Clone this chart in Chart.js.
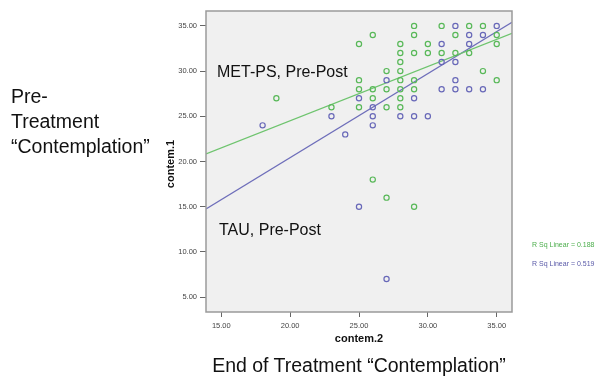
<!DOCTYPE html>
<html>
<head>
<meta charset="utf-8">
<script src="https://cdn.jsdelivr.net/npm/chart.js@4.4.1/dist/chart.umd.min.js"></script>
<style>
  html, body { margin: 0; padding: 0; background: #fff; }
  #wrap { position: relative; width: 607px; height: 376px; font-family: "Liberation Sans", Arial, sans-serif; }
  #grafico { position: absolute; left: 0; top: 0; }
  .txt { position: absolute; white-space: nowrap; color: #111; line-height: 1; }
</style>
</head>
<body>
<div id="wrap">
  <canvas id="grafico" width="607" height="376"></canvas>
  <div class="txt" style="left:11px; top:84px; font-size:19.5px; line-height:25px;">Pre-<br>Treatment<br>“Contemplation”</div>
  <div class="txt" style="left:170px; top:164px; font-size:11px; font-weight:bold; transform:translate(-50%,-50%) rotate(-90deg);">contem.1</div>
  <div class="txt" style="left:359px; top:338px; font-size:11px; font-weight:bold; transform:translate(-50%,-50%);">contem.2</div>
  <div class="txt" style="left:359px; top:366px; font-size:19.5px; transform:translate(-50%,-50%);">End of Treatment “Contemplation”</div>
  <div class="txt" style="left:217px; top:64px; font-size:16px;">MET-PS, Pre-Post</div>
  <div class="txt" style="left:219px; top:222px; font-size:16px;">TAU, Pre-Post</div>
  <div class="txt" style="left:532px; top:241px; font-size:7px; color:#4cae4c;">R Sq Linear = 0.188</div>
  <div class="txt" style="left:532px; top:260px; font-size:7px; color:#5a5aa8;">R Sq Linear = 0.519</div>
</div>
<script>
// Ticks dos eixos
const ticksX = [15, 20, 25, 30, 35];
const ticksY = [5, 10, 15, 20, 25, 30, 35];

// MET-PS (verde): contem.2 x contem.1
const metX = [29, 31, 33, 34, 26, 29, 32, 35, 25, 28, 30, 35, 28, 29, 30, 31, 32, 33, 28,
  27, 28, 34, 25, 28, 29, 35, 25, 26, 27, 28, 29, 19, 26, 28, 23, 25, 27, 28, 26, 27, 29];
const metY = [35, 35, 35, 35, 34, 34, 34, 34, 33, 33, 33, 33, 32, 32, 32, 32, 32, 32, 31,
  30, 30, 30, 29, 29, 29, 29, 28, 28, 28, 28, 28, 27, 27, 27, 26, 26, 26, 26, 18, 16, 15];

// TAU (azul)
const tauX = [32, 35, 33, 34, 31, 33, 31, 32, 27, 32, 31, 32, 33, 34, 25, 29,
  26, 23, 26, 28, 29, 30, 18, 26, 24, 25, 27];
const tauY = [35, 35, 34, 34, 33, 33, 31, 31, 29, 29, 28, 28, 28, 28, 27, 27,
  26, 25, 25, 25, 25, 25, 24, 24, 23, 15, 7];

// Retas de regressão (extremos)
const retaMetX = [13.89, 36.11];
const retaMetY = [20.83, 34.19];
const retaTauX = [13.89, 36.11];
const retaTauY = [14.74, 35.4];

const verde = 'rgb(88, 184, 88)';
const azul = 'rgb(104, 104, 184)';

function pontos(xs, ys) {
  return xs.map((x, i) => ({ x: x, y: ys[i] }));
}

// Fundo cinza e borda da área do gráfico
const fundoPlugin = {
  id: 'fundo',
  beforeDraw(chart) {
    const a = chart.chartArea;
    const ctx = chart.ctx;
    ctx.save();
    ctx.fillStyle = '#f0f0f0';
    ctx.fillRect(a.left, a.top, a.right - a.left, a.bottom - a.top);
    ctx.restore();
  },
  afterDraw(chart) {
    const a = chart.chartArea;
    const ctx = chart.ctx;
    ctx.save();
    ctx.strokeStyle = '#9a9a9a';
    ctx.lineWidth = 1.5;
    ctx.strokeRect(a.left, a.top, a.right - a.left, a.bottom - a.top);
    ctx.restore();
  }
};

const ctx = document.getElementById('grafico').getContext('2d');
new Chart(ctx, {
  type: 'scatter',
  data: {
    datasets: [
      {
        label: 'MET-PS',
        data: pontos(metX, metY),
        borderColor: verde,
        backgroundColor: 'rgba(0,0,0,0)',
        borderWidth: 1.2,
        pointRadius: 2.6
      },
      {
        label: 'TAU',
        data: pontos(tauX, tauY),
        borderColor: azul,
        backgroundColor: 'rgba(0,0,0,0)',
        borderWidth: 1.2,
        pointRadius: 2.6
      },
      {
        type: 'line',
        label: 'Reta MET-PS',
        data: pontos(retaMetX, retaMetY),
        borderColor: 'rgb(110, 196, 110)',
        borderWidth: 1.3,
        pointRadius: 0,
        fill: false
      },
      {
        type: 'line',
        label: 'Reta TAU',
        data: pontos(retaTauX, retaTauY),
        borderColor: 'rgb(110, 110, 186)',
        borderWidth: 1.3,
        pointRadius: 0,
        fill: false
      }
    ]
  },
  options: {
    responsive: false,
    animation: false,
    layout: { padding: { left: 0, top: 11, right: 95, bottom: 0 } },
    plugins: {
      legend: { display: false },
      tooltip: { enabled: false }
    },
    scales: {
      x: {
        type: 'linear',
        min: 13.89,
        max: 36.11,
        afterBuildTicks: (s) => { s.ticks = ticksX.map(v => ({ value: v })); },
        afterFit: (s) => { s.height = 64; },
        grid: { drawOnChartArea: false, drawTicks: true, tickLength: 5, color: '#666' },
        border: { display: false },
        ticks: {
          color: '#444',
          font: { family: 'Liberation Sans', size: 7.5 },
          padding: 4,
          maxRotation: 0,
          callback: (v) => Number(v).toFixed(2)
        }
      },
      y: {
        type: 'linear',
        min: 3.35,
        max: 36.65,
        afterBuildTicks: (s) => { s.ticks = ticksY.map(v => ({ value: v })); },
        afterFit: (s) => { s.width = 206; },
        grid: { drawOnChartArea: false, drawTicks: true, tickLength: 6, color: '#666' },
        border: { display: false },
        ticks: {
          color: '#444',
          font: { family: 'Liberation Sans', size: 7.5 },
          padding: 3,
          callback: (v) => Number(v).toFixed(2)
        }
      }
    }
  },
  plugins: [fundoPlugin]
});
</script>
</body>
</html>
